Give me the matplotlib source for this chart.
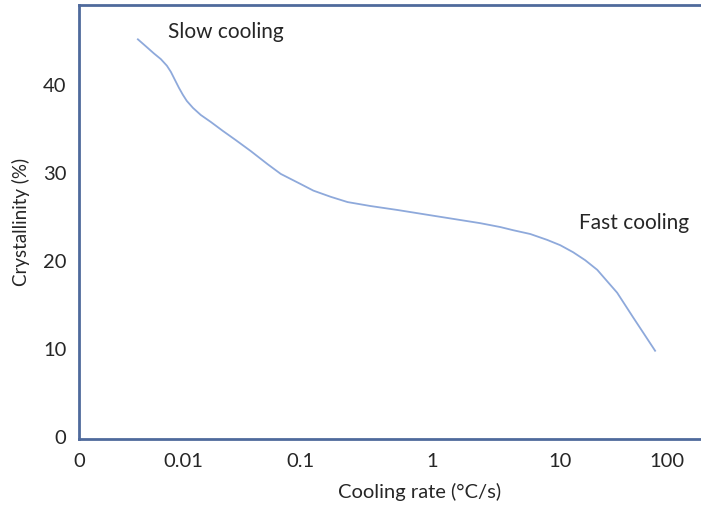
import numpy as np
import matplotlib
matplotlib.use("Agg")
import matplotlib.pyplot as plt
from matplotlib.ticker import NullLocator

plt.rcParams['font.family'] = ['Lato', 'DejaVu Sans']

# cooling rate (°C/s) and crystallinity (%)
cooling_rate = [0.00369, 0.00441, 0.00526, 0.00614, 0.00702, 0.00767, 0.00838,
                0.00916, 0.0100, 0.0108, 0.0122, 0.0142, 0.0173, 0.0218,
                0.0281, 0.0377, 0.0525, 0.0678, 0.100, 0.125, 0.169, 0.227,
                0.339, 0.543, 0.966, 1.655, 2.37, 3.40, 4.29, 5.83, 7.91,
                10.0, 13.2, 17.1, 22.2, 27.5, 34.1, 40.5, 48.1, 61.0, 77.3]
crystallinity = [45.2, 44.4, 43.6, 42.95, 42.2, 41.5, 40.6, 39.7, 38.9, 38.2,
                 37.4, 36.6, 35.8, 34.8, 33.75, 32.5, 31.0, 29.9, 28.75, 28.0,
                 27.3, 26.7, 26.25, 25.8, 25.2, 24.66, 24.3, 23.86, 23.5,
                 23.07, 22.4, 21.8, 21.0, 20.1, 19.0, 17.7, 16.4, 15.0, 13.6,
                 11.7, 9.8]

x_ticks = [0.001, 0.01, 0.1, 1, 10, 100]
x_tick_labels = ['0', '0.01', '0.1', '1', '10', '100']
y_ticks = [0, 10, 20, 30, 40]

# the axis in the original is not evenly spaced between decades
knot_dec = [-4.0, -3.0, -2.0, -1.0, 0.0, 1.0, 2.0, 3.0]
knot_pos = [-26.0, 78.0, 182.0, 300.0, 432.0, 560.0, 667.0, 774.0]


def fwd(x):
    x = np.asarray(x, dtype=float)
    return np.interp(np.log10(np.clip(x, 1e-12, None)), knot_dec, knot_pos)


def inv(p):
    p = np.asarray(p, dtype=float)
    return 10 ** np.interp(p, knot_pos, knot_dec)


fig = plt.figure(figsize=(7.01, 5.07), dpi=100)
ax = fig.add_axes([79 / 701, 68 / 507, 1 - 79 / 701, 434 / 507])

ax.plot(cooling_rate, crystallinity, color='#8EA9DB', lw=1.3,
        solid_joinstyle='round')

ax.set_xscale('function', functions=(fwd, inv))
ax.set_xlim(inv(79), inv(701))
ax.set_ylim(-0.23, 49.1)
ax.set_xticks(x_ticks)
ax.set_xticklabels(x_tick_labels)
ax.xaxis.set_minor_locator(NullLocator())
ax.set_yticks(y_ticks)
ax.tick_params(length=0, labelsize=14.5, colors='#262626')
ax.tick_params(axis='x', pad=10)
ax.tick_params(axis='y', pad=9)

for side in ['left', 'bottom', 'top']:
    ax.spines[side].set_color('#4F6A9C')
    ax.spines[side].set_linewidth(2)
ax.spines['right'].set_visible(False)

ax.set_xlabel('Cooling rate (°C/s)', fontsize=14.5, color='#262626')
ax.xaxis.set_label_coords((420 - 79) / 622, -0.102)
ax.set_ylabel('Crystallinity (%)', fontsize=13.5, color='#262626', labelpad=9)

ax.text(0.143, 0.938, 'Slow cooling', transform=ax.transAxes, fontsize=15,
        color='#262626', va='center', ha='left')
ax.text(0.804, 0.497, 'Fast cooling', transform=ax.transAxes, fontsize=15,
        color='#262626', va='center', ha='left')

fig.savefig('out.png', dpi=100)
